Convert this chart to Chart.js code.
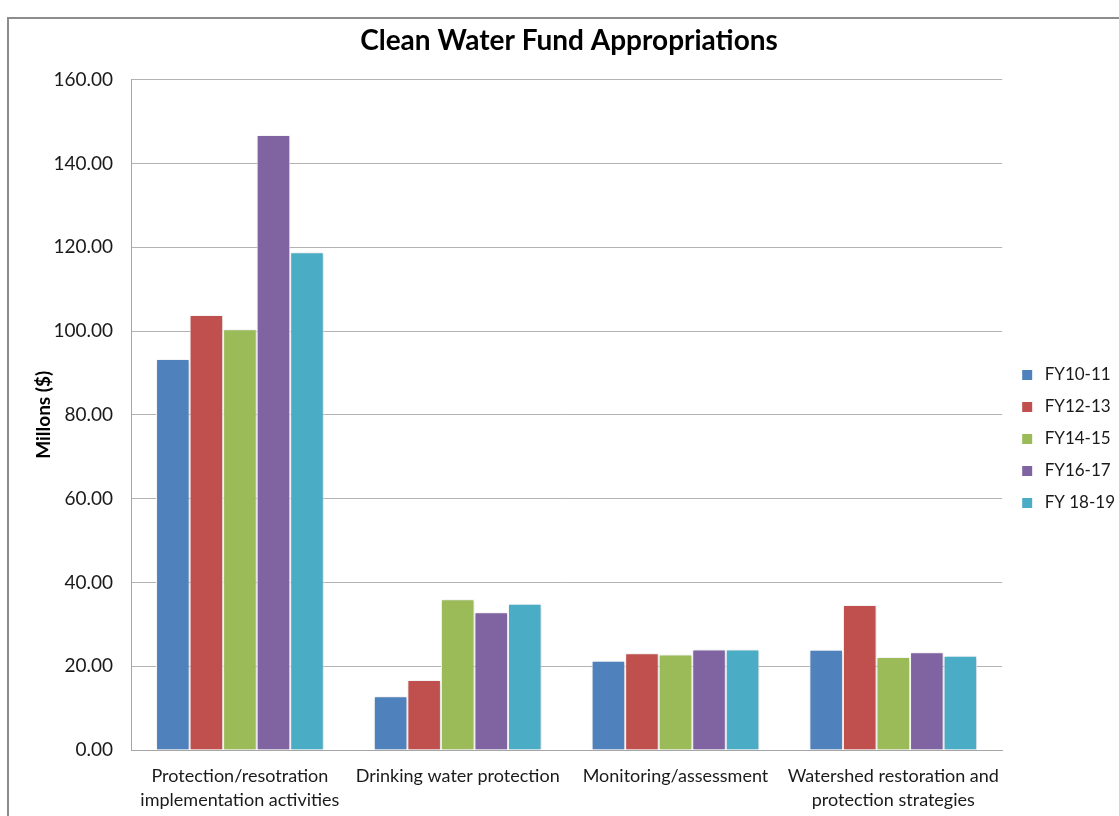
<!DOCTYPE html>
<html>
<head>
<meta charset="utf-8">
<title>Clean Water Fund Appropriations</title>
<script src="https://cdn.jsdelivr.net/npm/chart.js@4.4.1/dist/chart.umd.min.js"></script>
<style>
  html, body { margin: 0; padding: 0; background: #fff; }
  #wrap { position: relative; width: 1119px; height: 816px; }
</style>
</head>
<body>
<div id="wrap"><canvas id="cwfChart" width="1119" height="816"></canvas></div>
<script>
// Appropriations by program area, millions of dollars
var categories = [
    ["Protection/resotration", "implementation activities"],
    "Drinking water protection",
    "Monitoring/assessment",
    ["Watershed restoration and", "protection strategies"]
];
var seriesNames = ["FY10-11", "FY12-13", "FY14-15", "FY16-17", "FY 18-19"];
var fy1011 = [93.3, 12.8, 21.3, 23.9];
var fy1213 = [103.8, 16.7, 23.1, 34.6];
var fy1415 = [100.4, 36.0, 22.8, 22.2];
var fy1617 = [146.8, 32.9, 24.0, 23.3];
var fy1819 = [118.8, 34.9, 24.0, 22.5];
var colors = ['#4f81bd', '#c0504d', '#9bbb59', '#8064a2', '#4bacc6'];

var FONT = "Lato, 'Open Sans', sans-serif";

// small square swatch with some room before the label text
function swatch(color) {
    var c = document.createElement('canvas');
    c.width = 16;
    c.height = 10;
    var g = c.getContext('2d');
    g.fillStyle = color;
    g.fillRect(2, 0, 10, 10);
    return c;
}

// outer frame, soft shadow behind the bars, legend nudge
var framePlugin = {
    id: 'frame',
    afterLayout: function (chart) {
        var lg = chart.legend;
        lg.top += 21; lg.bottom += 21;
        lg.left += 3; lg.right += 3;
    },
    beforeDraw: function (chart) {
        var c = chart.ctx;
        c.save();
        c.fillStyle = '#fff';
        c.fillRect(0, 0, chart.width, chart.height);
        c.strokeStyle = '#8c8c8c';
        c.lineWidth = 2;
        c.strokeRect(8, 18, 1200, 900);
        c.restore();
    },
    beforeDatasetsDraw: function (chart) {
        chart.ctx.save();
        chart.ctx.shadowColor = 'rgba(0,0,0,0.18)';
        chart.ctx.shadowBlur = 4;
        chart.ctx.shadowOffsetX = 1;
        chart.ctx.shadowOffsetY = 1;
    },
    afterDatasetsDraw: function (chart) {
        chart.ctx.restore();
    }
};

var allSeries = [fy1011, fy1213, fy1415, fy1617, fy1819];
var datasets = [];
for (var i = 0; i < allSeries.length; i++) {
    datasets.push({
        label: seriesNames[i],
        data: allSeries[i],
        backgroundColor: colors[i],
        borderColor: '#ffffff',
        borderWidth: 1,
        barPercentage: 1.0,
        categoryPercentage: 0.77,
        pointStyle: swatch(colors[i])
    });
}

var ctx = document.getElementById('cwfChart');
var cwfChart = new Chart(ctx, {
    type: 'bar',
    data: {
        labels: categories,
        datasets: datasets
    },
    plugins: [framePlugin],
    options: {
        responsive: false,
        animation: false,
        layout: {
            padding: { left: 16, right: -3, top: 20, bottom: 0 }
        },
        scales: {
            x: {
                grid: { display: false, drawTicks: false },
                border: { display: true, color: '#a6a6a6', width: 1 },
                ticks: {
                    color: '#1a1a1a',
                    font: { family: FONT, size: 18, lineHeight: 1.33 },
                    maxRotation: 0,
                    autoSkip: false,
                    padding: 14
                },
                afterFit: function (scale) { scale.height = 66; }
            },
            y: {
                min: 0,
                max: 160,
                grid: { color: '#b3b3b3', lineWidth: 1, drawTicks: false },
                border: { display: true, color: '#a6a6a6', width: 1 },
                ticks: {
                    stepSize: 20,
                    color: '#1a1a1a',
                    font: { family: FONT, size: 19 },
                    padding: 18,
                    callback: function (v) { return Number(v).toFixed(2); }
                },
                title: {
                    display: true,
                    text: 'Millons ($)',
                    color: '#000',
                    font: { family: FONT, size: 19, weight: 'bold' },
                    padding: { top: 16, bottom: 4 }
                },
                afterFit: function (scale) { scale.width = 115; }
            }
        },
        plugins: {
            title: {
                display: true,
                text: 'Clean Water Fund Appropriations',
                color: '#000',
                font: { family: FONT, size: 28, weight: 'bold' },
                padding: { top: 4, bottom: 22 }
            },
            legend: {
                position: 'right',
                labels: {
                    usePointStyle: true,
                    pointStyleWidth: 16,
                    boxHeight: 10,
                    padding: 15,
                    color: '#1a1a1a',
                    font: { family: FONT, size: 17 }
                }
            },
            tooltip: { enabled: false }
        }
    }
});
</script>
</body>
</html>
